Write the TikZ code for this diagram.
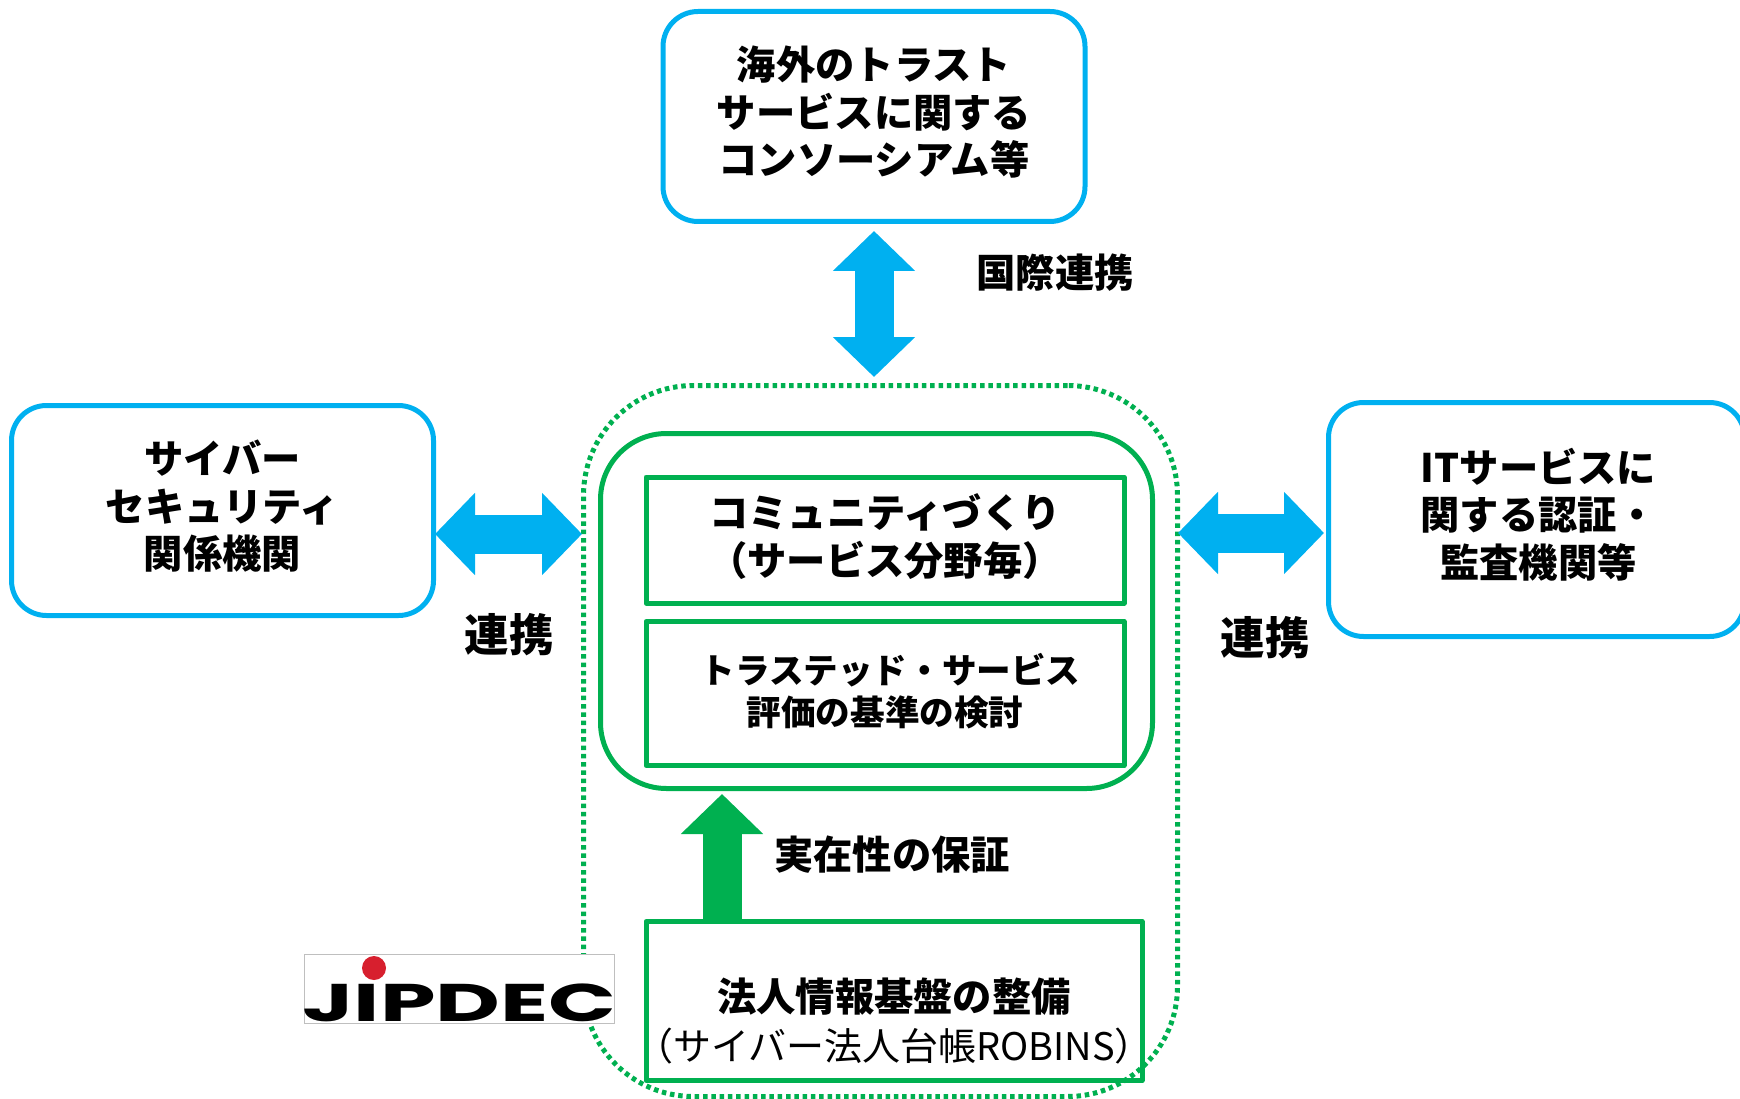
\documentclass[tikz,border=0pt]{standalone}
\usepackage{fontspec}
\setmainfont{Noto Sans CJK JP}
\newfontfamily\logofont{Poppins}
\usepackage{tikz}
\usetikzlibrary{arrows.meta,positioning}
\definecolor{trustblue}{HTML}{00B0F0}
\definecolor{trustgreen}{HTML}{00B050}
\definecolor{logored}{HTML}{D71F2E}

\begin{document}
\begin{tikzpicture}[x=1pt,y=-1pt]
\tikzstyle{label}=[align=center, font=\fontsize{39.3}{47.5}\selectfont\bfseries, inner sep=0pt]
\tikzstyle{main}=[rectangle, rounded corners=35pt, line width=5pt, draw=trustblue, minimum width=422pt, minimum height=210pt]
\tikzstyle{box}=[label, rectangle, line width=5pt, line join=round, draw=trustgreen, minimum width=478pt]
\tikzstyle{connect}=[line width=39pt, draw=trustblue, {Triangle[length=40pt,width=80pt]}-{Triangle[length=40pt,width=80pt]}]
\tikzstyle{guarantee}=[line width=39pt, draw=trustgreen, -{Triangle[length=40pt,width=80pt]}]
  \useasboundingbox (0,0) rectangle (1740,1099);
  \node[main] (overseas) at (874,116.5) {};
  \node[label] (overseaslabel) at ([yshift=4pt]overseas) {海外のトラスト\\サービスに関する\\コンソーシアム等};
  \node[main] (security) at (222.5,510.5) {};
  \node[label] (securitylabel) at ([yshift=4pt]security) {サイバー\\セキュリティ\\関係機関};
  \node[main, minimum width=416pt, minimum height=234pt] (audit) at (1536.5,519.5) {};
  \node[label] (auditlabel) at ([xshift=2pt,yshift=5pt]audit) {ITサービスに\\関する認証・\\監査機関等};
  \node[rectangle, rounded corners=110pt, line width=5pt, draw=trustgreen, dash pattern=on 4.5pt off 3.8pt, minimum width=594pt, minimum height=711pt] (outer) at (880.5,741) {};
  \node[rectangle, rounded corners=66pt, line width=5pt, draw=trustgreen, minimum width=552pt, minimum height=355pt] (inner) at (876.5,611) {};
  \node[box, minimum height=126pt] (community) at (885,540) {};
  \node[label] (communitylabel) at ([yshift=3.5pt]community) {コミュニティづくり\\（サービス分野毎）};
  \node[box, minimum height=144pt] (criteria) [below=13.5pt of community] {};
  \node[label, font=\fontsize{34.6}{42.5}\selectfont\bfseries] (criterialabel) at (885,691) {\hspace*{11pt}トラステッド・サービス\\評価の基準の検討};
  \node[box, minimum width=496pt, minimum height=159pt] (base) at (894,1001) {};
  \node[label] (baselabel) at (894,997) {法人情報基盤の整備};
  \node[inner sep=0pt, font=\fontsize{38}{38}\selectfont] (robins) [below=12pt of baselabel] {（サイバー法人台帳ROBINS）};
  \node[rectangle, fill=white, draw=black!25, line width=1pt, minimum width=310pt, minimum height=69pt, inner sep=0pt] (logo) at (459,988.5) {};
  \node[circle, fill=logored, minimum size=24pt, inner sep=0pt] (logodot) at (374,968) {};
  \node[inner sep=0pt, font=\logofont\fontsize{53}{53}\selectfont\bfseries, xscale=1.68, transform shape] (jipdec) at (459.5,1003) {JIPDEC};
  \node[label] (intl) at (1055,272.5) {国際連携};
  \node[label, font=\fontsize{44.5}{44}\selectfont\bfseries] (linkleft) at (509,635) {連携};
  \node[label, font=\fontsize{44.5}{44}\selectfont\bfseries] (linkright) at (1265,638) {連携};
  \node[label] (proof) at (892,855) {実在性の保証};

  \coordinate (lefttip) at ([yshift=-23.5pt]security.east);
  \coordinate (righttip) at ([yshift=-13.5pt,xshift=-2pt]audit.west);
  \coordinate (baseup) at (722,921);
  \path
  		(lefttip) edge [connect, shorten <=-1pt, shorten >=-1pt] (lefttip -| outer.west)
  		(righttip) edge [connect, shorten >=-2pt] (righttip -| outer.east)
  		(overseas.south) edge [connect, shorten <=7pt, shorten >=6pt] (overseas.south |- outer.north)
  		(baseup) edge [guarantee, shorten >=3pt] (baseup |- inner.south);
\end{tikzpicture}
\end{document}
